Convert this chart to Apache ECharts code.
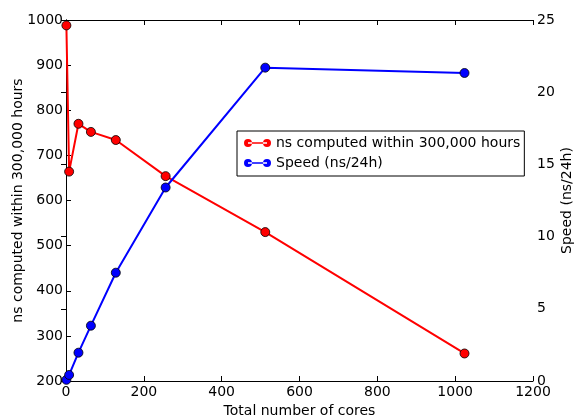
<!DOCTYPE html>
<html>
<head>
<meta charset="utf-8">
<script src="https://cdn.jsdelivr.net/npm/echarts@6/dist/echarts.min.js"></script>
<style>
  html, body { margin: 0; padding: 0; background: #fff; }
  #chart { width: 575px; height: 419px; }
</style>
</head>
<body>
<div id="chart"></div>
<script>
// Scaling run: cores used vs. throughput
const cores = [1, 8, 32, 64, 128, 256, 512, 1024];
const nsWithinBudget = [988, 664, 770, 752, 734, 654, 530, 261];
const speedNsPerDay = [0.08, 0.42, 1.96, 3.83, 7.5, 13.4, 21.7, 21.33];

const xTicks = { min: 0, max: 1200, interval: 200 };
const leftTicks = { min: 200, max: 1000, interval: 100 };
const rightTicks = { min: 0, max: 25, interval: 5 };

const FONT = 'DejaVu Sans';
const textStyle = { fontFamily: FONT, fontSize: 14, color: '#000' };
const plain = v => String(v);

const pairs = (xs, ys) => xs.map((x, i) => [x, ys[i]]);

// line with a marker at each end, used as the legend glyph
const legendIcon = 'path://M0,4.5a4,4 0 1,0 8,0a4,4 0 1,0 -8,0Z M19,4.5a4,4 0 1,0 8,0a4,4 0 1,0 -8,0Z M4,3.7H23V5.3H4Z';

const frameLine = { show: true, lineStyle: { color: '#000', width: 1 } };
const innerTick = { show: true, inside: true, length: 5, lineStyle: { color: '#000' } };

const chart = echarts.init(document.getElementById('chart'), null, { renderer: 'canvas' });
chart.setOption({
  animation: false,
  backgroundColor: '#fff',
  textStyle: textStyle,
  grid: { left: 66, right: 42, top: 20, bottom: 38, containLabel: false, outerBoundsMode: 'none' },
  legend: {
    left: 237, top: 131,
    orient: 'vertical',
    padding: [5, 4, 6, 7],
    itemGap: 6,
    itemWidth: 27, itemHeight: 9,
    borderColor: '#000', borderWidth: 1, borderRadius: 0,
    backgroundColor: '#fff',
    textStyle: textStyle,
    itemStyle: { borderWidth: 0 },
    data: [
      { name: 'ns computed within 300,000 hours', icon: legendIcon },
      { name: 'Speed (ns/24h)', icon: legendIcon }
    ]
  },
  xAxis: [
    {
      type: 'value', position: 'bottom',
      min: xTicks.min, max: xTicks.max, interval: xTicks.interval,
      name: 'Total number of cores', nameLocation: 'middle', nameGap: 23,
      nameMoveOverlap: false,
      nameTextStyle: textStyle,
      axisLine: frameLine, axisTick: innerTick,
      axisLabel: Object.assign({ margin: 4, formatter: plain }, textStyle),
      splitLine: { show: false }
    },
    {
      type: 'value', position: 'top',
      min: xTicks.min, max: xTicks.max, interval: xTicks.interval,
      axisLine: frameLine, axisTick: innerTick,
      axisLabel: { show: false }, splitLine: { show: false }
    }
  ],
  yAxis: [
    {
      type: 'value', position: 'left',
      min: leftTicks.min, max: leftTicks.max, interval: leftTicks.interval,
      name: 'ns computed within 300,000 hours', nameLocation: 'middle', nameGap: 41,
      nameRotate: 90, nameMoveOverlap: false,
      nameTextStyle: textStyle,
      axisLine: frameLine, axisTick: innerTick,
      axisLabel: Object.assign({ margin: 3, formatter: plain }, textStyle),
      splitLine: { show: false }
    },
    {
      type: 'value', position: 'right',
      min: rightTicks.min, max: rightTicks.max, interval: rightTicks.interval,
      name: 'Speed (ns/24h)', nameLocation: 'middle', nameGap: 27,
      nameRotate: 90, nameMoveOverlap: false,
      nameTextStyle: textStyle,
      axisLine: frameLine, axisTick: innerTick,
      axisLabel: Object.assign({ margin: 4, formatter: plain }, textStyle),
      splitLine: { show: false }
    }
  ],
  series: [
    {
      name: 'ns computed within 300,000 hours',
      type: 'line', xAxisIndex: 0, yAxisIndex: 0,
      data: pairs(cores, nsWithinBudget),
      symbol: 'circle', symbolSize: 9,
      lineStyle: { color: '#ff0000', width: 2 },
      itemStyle: { color: '#ff0000', borderColor: '#000', borderWidth: 0.8 },
      clip: false
    },
    {
      name: 'Speed (ns/24h)',
      type: 'line', xAxisIndex: 0, yAxisIndex: 1,
      data: pairs(cores, speedNsPerDay),
      symbol: 'circle', symbolSize: 9,
      lineStyle: { color: '#0000ff', width: 2 },
      itemStyle: { color: '#0000ff', borderColor: '#000', borderWidth: 0.8 },
      clip: false
    }
  ]
});
</script>
</body>
</html>
